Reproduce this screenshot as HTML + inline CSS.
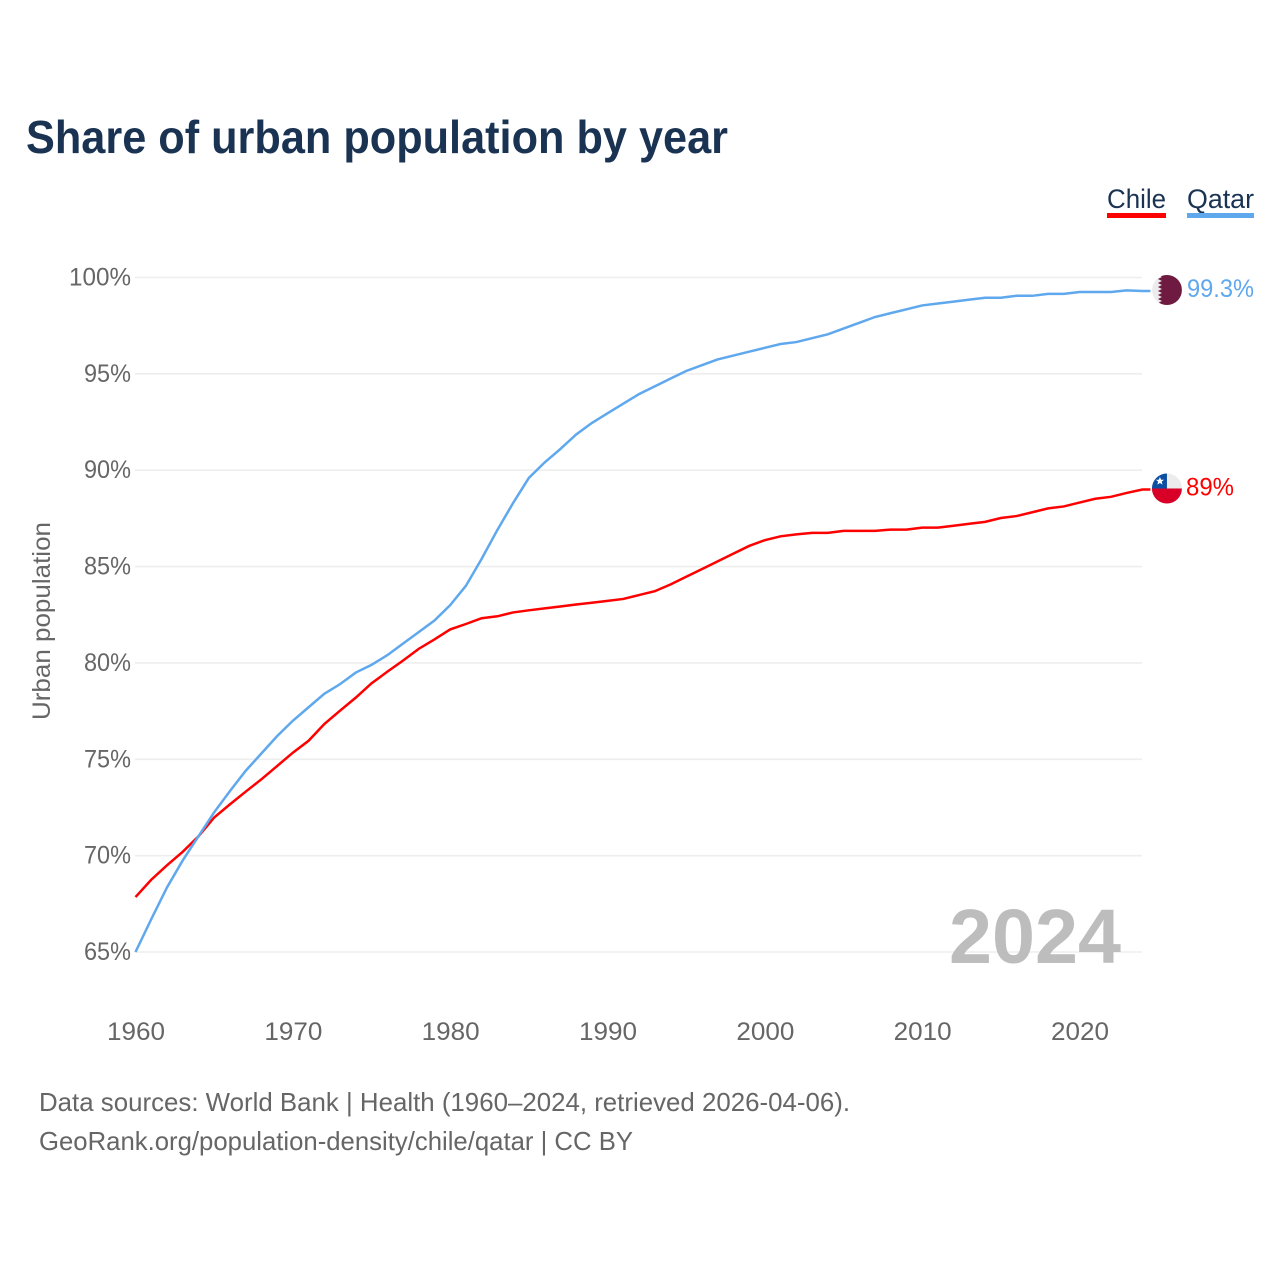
<!DOCTYPE html>
<html>
<head>
<meta charset="utf-8">
<title>Share of urban population by year</title>
<style>
html,body{margin:0;padding:0;background:#fff;}
svg{display:block;font-family:"Liberation Sans",sans-serif;}
</style>
</head>
<body>
<svg id="chart" width="1280" height="1280" viewBox="0 0 1280 1280" xmlns="http://www.w3.org/2000/svg">
  <defs>
    <clipPath id="flag-clip"><circle cx="0" cy="0" r="15"></circle></clipPath>
  </defs>
  <rect width="1280" height="1280" fill="#fff"></rect>
  <text x="26" y="153" font-size="46" font-weight="700" fill="#1a3352" textLength="702" lengthAdjust="spacingAndGlyphs">Share of urban population by year</text>

  <g>
    <g>
      <text x="1107" y="208" font-size="27" fill="#1a3352" textLength="59" lengthAdjust="spacingAndGlyphs">Chile</text>
      <rect x="1107" y="213" width="59" height="5" fill="#ff0000"></rect>
    </g>
    <g>
      <text x="1187" y="208" font-size="27" fill="#1a3352" textLength="67" lengthAdjust="spacingAndGlyphs">Qatar</text>
      <rect x="1187" y="213" width="67" height="5" fill="#5fa8ee"></rect>
    </g>
  </g>

  <g id="grid"></g>
  <g id="y-ticks"></g>
  <g id="x-ticks"></g>
  <text transform="translate(50,720) rotate(-90)" font-size="25" fill="#666" textLength="198" lengthAdjust="spacingAndGlyphs">Urban population</text>

  <text x="949" y="963" font-size="77" font-weight="700" fill="#bdbdbd" textLength="172" lengthAdjust="spacingAndGlyphs">2024</text>

  <g id="series"></g>

  <g id="flag-qatar" clip-path="url(#flag-clip)">
    <circle r="15" fill="#ececec"></circle>
    <polygon points="15,-15 -9,-15 -5,-13 -9,-11 -5,-9 -9,-7 -5,-5 -9,-3 -5,-1 -9,1 -5,3 -9,5 -5,7 -9,9 -5,11 -9,13 -5,15 15,15" fill="#6f1a41"></polygon>
  </g>
  <g id="flag-chile" clip-path="url(#flag-clip)">
    <rect x="-15" y="-15" width="30" height="15" fill="#ececec"></rect>
    <rect x="-15" y="-15" width="15" height="15" fill="#0b4ea2"></rect>
    <rect x="-15" y="0" width="30" height="15" fill="#d80027"></rect>
    <polygon points="-7,-11.5 -5.8,-8.7 -2.9,-8.7 -5.2,-6.8 -4.4,-3.9 -7,-5.5 -9.6,-3.9 -8.8,-6.8 -11.1,-8.7 -8.2,-8.7" fill="#fff"></polygon>
  </g>
  <text id="label-qatar" x="1187" font-size="25" fill="#5fa8ee" textLength="67" lengthAdjust="spacingAndGlyphs"></text>
  <text id="label-chile" x="1186" font-size="25" fill="#ff0000" textLength="48" lengthAdjust="spacingAndGlyphs"></text>

  <text x="39" y="1111" font-size="26" fill="#666" textLength="811" lengthAdjust="spacingAndGlyphs">Data sources: World Bank | Health (1960–2024, retrieved 2026-04-06).</text>
  <text x="39" y="1150" font-size="26" fill="#666" textLength="594" lengthAdjust="spacingAndGlyphs">GeoRank.org/population-density/chile/qatar | CC BY</text>
</svg>
<script>
const years = [1960,1961,1962,1963,1964,1965,1966,1967,1968,1969,1970,1971,1972,1973,1974,1975,1976,1977,1978,1979,1980,1981,1982,1983,1984,1985,1986,1987,1988,1989,1990,1991,1992,1993,1994,1995,1996,1997,1998,1999,2000,2001,2002,2003,2004,2005,2006,2007,2008,2009,2010,2011,2012,2013,2014,2015,2016,2017,2018,2019,2020,2021,2022,2023,2024];
const chileValues = [67.85,68.75,69.5,70.2,71.0,71.98,72.66,73.32,73.96,74.65,75.34,75.96,76.83,77.52,78.2,78.94,79.54,80.12,80.73,81.22,81.74,82.02,82.32,82.42,82.62,82.73,82.83,82.93,83.03,83.12,83.22,83.32,83.52,83.72,84.07,84.47,84.87,85.27,85.67,86.07,86.37,86.57,86.67,86.75,86.75,86.85,86.85,86.85,86.92,86.92,87.02,87.02,87.12,87.22,87.32,87.52,87.62,87.82,88.02,88.12,88.32,88.52,88.62,88.82,89.0];
const qatarValues = [65.0,66.7,68.35,69.75,71.0,72.25,73.35,74.4,75.3,76.2,77.0,77.7,78.4,78.9,79.5,79.9,80.4,81.0,81.6,82.2,83.0,84.0,85.4,86.9,88.3,89.6,90.4,91.1,91.85,92.45,92.95,93.45,93.95,94.35,94.75,95.15,95.45,95.75,95.95,96.15,96.35,96.55,96.65,96.85,97.05,97.35,97.65,97.95,98.15,98.35,98.55,98.65,98.75,98.85,98.95,98.95,99.05,99.05,99.15,99.15,99.25,99.25,99.25,99.33,99.3];
const yTickValues = [65,70,75,80,85,90,95,100];
const xTickValues = [1960,1970,1980,1990,2000,2010,2020];
const SVG_NS = 'http://www.w3.org/2000/svg';
function xScale(year){ return 135.5 + (year - 1960) * (1080 - 136) / 60; }
function yScale(value){ return 952 - (value - 65) * (952 - 277.5) / 35; }
const gridGroup = document.getElementById('grid');
const yTickGroup = document.getElementById('y-ticks');
const xTickGroup = document.getElementById('x-ticks');
const seriesGroup = document.getElementById('series');
yTickValues.forEach(function(v){
  const line = document.createElementNS(SVG_NS, 'line');
  
  
  line.setAttribute('x1', 135);
  line.setAttribute('x2', 1142);
  line.setAttribute('y1', yScale(v));
  line.setAttribute('y2', yScale(v));
  line.setAttribute('stroke', '#eeeeee');
  line.setAttribute('stroke-width', 1.6);
  gridGroup.appendChild(line);
  const t = document.createElementNS(SVG_NS, 'text');
  
  
  t.setAttribute('x', 131);
  t.setAttribute('y', yScale(v) + 8);
  t.setAttribute('text-anchor', 'end');
  t.setAttribute('font-size', 25);
  t.setAttribute('fill', '#666');
  t.setAttribute('textLength', v === 100 ? 62 : 47);
  t.setAttribute('lengthAdjust', 'spacingAndGlyphs');
  t.textContent = v + '%';
  yTickGroup.appendChild(t);
});
xTickValues.forEach(function(yr){
  const t = document.createElementNS(SVG_NS, 'text');
  
  
  t.setAttribute('x', xScale(yr) + 0.5);
  t.setAttribute('y', 1040);
  t.setAttribute('text-anchor', 'middle');
  t.setAttribute('font-size', 25);
  t.setAttribute('fill', '#666');
  t.setAttribute('textLength', 58);
  t.setAttribute('lengthAdjust', 'spacingAndGlyphs');
  t.textContent = yr;
  xTickGroup.appendChild(t);
});
function pathFor(values){
  return values.map(function(v, i){ return (i ? 'L' : 'M') + xScale(years[i]).toFixed(2) + ' ' + yScale(v).toFixed(2); }).join(' ');
}
const lastIndex = years.length - 1;
const lastX = xScale(years[lastIndex]);
const qatarLine = document.createElementNS(SVG_NS, 'path');


qatarLine.setAttribute('d', pathFor(qatarValues) + ' L' + (lastX + 8) + ' ' + yScale(qatarValues[lastIndex]).toFixed(2));
qatarLine.setAttribute('fill', 'none');
qatarLine.setAttribute('stroke', '#5fa8ee');
qatarLine.setAttribute('stroke-width', 2.5);
seriesGroup.appendChild(qatarLine);
const chileLine = document.createElementNS(SVG_NS, 'path');


chileLine.setAttribute('d', pathFor(chileValues) + ' L' + (lastX + 8) + ' ' + yScale(chileValues[lastIndex]).toFixed(2));
chileLine.setAttribute('fill', 'none');
chileLine.setAttribute('stroke', '#ff0000');
chileLine.setAttribute('stroke-width', 2.5);
seriesGroup.insertBefore(chileLine, qatarLine);
const endX = lastX + 24.5;
const qatarEnd = qatarValues[lastIndex];
const chileEnd = chileValues[lastIndex];
document.getElementById('flag-qatar').setAttribute('transform', 'translate(' + endX + ',' + (yScale(qatarEnd) - 1) + ')');
document.getElementById('flag-chile').setAttribute('transform', 'translate(' + endX + ',' + (yScale(chileEnd) - 1) + ')');
const qatarLabel = document.getElementById('label-qatar');
qatarLabel.setAttribute('y', yScale(qatarEnd) + 6);
qatarLabel.textContent = qatarEnd + '%';
const chileLabel = document.getElementById('label-chile');
chileLabel.setAttribute('y', yScale(chileEnd) + 6);
chileLabel.textContent = chileEnd + '%';
</script>
</body>
</html>
